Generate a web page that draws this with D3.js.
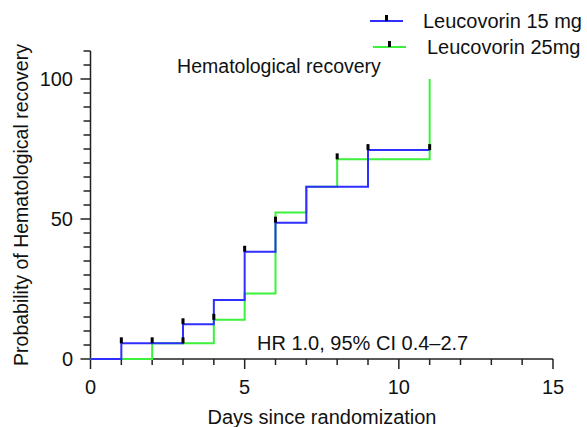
<!DOCTYPE html>
<html>
<head>
<meta charset="utf-8">
<script src="https://cdn.jsdelivr.net/npm/d3@7"></script>
<style>
  body { margin: 0; background: #fff; }
  text { font-family: "Liberation Sans", Arial, sans-serif; fill: #111; }
</style>
</head>
<body>
<div id="chart"></div>
<script>
// Kaplan-Meier style step data (days, percent recovered)
const series = ["Leucovorin 15 mg", "Leucovorin 25mg"];
const colors = ["#2e2eff", "#3cf03c"];
const days15 = [0, 1, 3, 4, 5, 6, 7, 9, 11];
const prob15 = [0, 5.6, 12.4, 21.1, 38.3, 48.7, 61.5, 74.6, 74.6];
const days25 = [0, 2, 4, 5, 6, 7, 8, 11, 11];
const prob25 = [0, 5.6, 14.0, 23.4, 52.3, 61.5, 71.3, 71.3, 100];
// censor marks
const censorDays = [1, 3, 5, 6, 9, 11, 2, 3, 4, 8];
const censorProb = [5.6, 12.4, 38.3, 48.7, 74.6, 74.6, 5.6, 5.6, 14.0, 71.3];
const xTicks = [0, 5, 10, 15];
const yTicks = [0, 50, 100];

const W = 587, H = 427;
const svg = d3.select("#chart").append("svg")
    .attr("width", W)
    .attr("height", H);

const x = d3.scaleLinear().domain([0, 15]).range([90.5, 553]);
const y = d3.scaleLinear().domain([0, 110]).range([359, 51]);

// ticks, major every 5 (x) / 50 (y)
svg.append("g")
    .selectAll("line")
    .data(d3.range(0, 16))
    .enter().append("line")
    .attr("x1", d => x(d)).attr("x2", d => x(d))
    .attr("y1", y(0)).attr("y2", d => y(0) + (d % 5 === 0 ? 10 : 6))
    .attr("stroke", "#222").attr("stroke-width", 1.5);

svg.append("g")
    .selectAll("line")
    .data(d3.range(0, 111, 5))
    .enter().append("line")
    .attr("y1", d => y(d)).attr("y2", d => y(d))
    .attr("x1", x(0)).attr("x2", d => x(0) - (d % 50 === 0 ? 10 : 7))
    .attr("stroke", "#222").attr("stroke-width", 1.5);

// axis lines
svg.append("line")
    .attr("x1", x(0)).attr("x2", x(15))
    .attr("y1", y(0)).attr("y2", y(0))
    .attr("stroke", "#222").attr("stroke-width", 1.5);
svg.append("line")
    .attr("x1", x(0)).attr("x2", x(0))
    .attr("y1", y(0)).attr("y2", y(110))
    .attr("stroke", "#222").attr("stroke-width", 1.5);

// tick labels
svg.append("g")
    .selectAll("text")
    .data(xTicks)
    .enter().append("text")
    .attr("x", d => x(d))
    .attr("y", 394)
    .attr("text-anchor", "middle")
    .style("font-size", "20px")
    .text(d => d);

svg.append("g")
    .selectAll("text")
    .data(yTicks)
    .enter().append("text")
    .attr("x", 73)
    .attr("y", d => y(d) + 7)
    .attr("text-anchor", "end")
    .style("font-size", "20px")
    .text(d => d);

// axis titles
svg.append("text")
    .attr("x", 322)
    .attr("y", 424)
    .attr("text-anchor", "middle")
    .style("font-size", "20px")
    .text("Days since randomization");

svg.append("text")
    .attr("transform", "rotate(-90)")
    .attr("x", -205)
    .attr("y", 28)
    .attr("text-anchor", "middle")
    .style("font-size", "19.5px")
    .text("Probability of Hematological recovery");

// step lines
const line = d3.line()
    .x(d => x(d[0]))
    .y(d => y(d[1]))
    .curve(d3.curveStepAfter);

const data25 = days25.map((d, i) => [d, prob25[i]]);
const data15 = days15.map((d, i) => [d, prob15[i]]);

svg.append("path")
    .datum(data25)
    .attr("fill", "none")
    .attr("stroke", colors[1])
    .attr("stroke-width", 2)
    .attr("d", line);

svg.append("path")
    .datum(data15)
    .attr("fill", "none")
    .attr("stroke", colors[0])
    .attr("stroke-width", 2)
    .attr("d", line);

// censor marks
svg.append("g")
    .selectAll("rect")
    .data(censorDays.map((d, i) => [d, censorProb[i]]))
    .enter().append("rect")
    .attr("x", d => x(d[0]) - 1.5)
    .attr("y", d => y(d[1]) - 6)
    .attr("width", 3)
    .attr("height", 6)
    .attr("fill", "#000");

// annotations
svg.append("text")
    .attr("x", 279)
    .attr("y", 73)
    .attr("text-anchor", "middle")
    .style("font-size", "19.5px")
    .text("Hematological recovery");

svg.append("text")
    .attr("x", 257)
    .attr("y", 350)
    .style("font-size", "20px")
    .text("HR 1.0, 95% CI 0.4\u20132.7");

// legend
const legendY = [21, 47];
const legendX = [370, 373];
const legendTextX = [423, 427];
series.forEach((s, i) => {
    svg.append("line")
        .attr("x1", legendX[i]).attr("x2", legendX[i] + 33)
        .attr("y1", legendY[i]).attr("y2", legendY[i])
        .attr("stroke", colors[i]).attr("stroke-width", 2);
    svg.append("rect")
        .attr("x", legendX[i] + 15).attr("y", legendY[i] - 6)
        .attr("width", 3).attr("height", 6)
        .attr("fill", "#000");
    svg.append("text")
        .attr("x", legendTextX[i])
        .attr("y", legendY[i] + 7)
        .style("font-size", "20px")
        .text(s);
});
</script>
</body>
</html>
